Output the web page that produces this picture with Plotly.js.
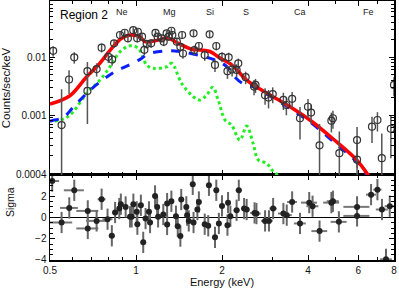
<!DOCTYPE html>
<html><head><meta charset="utf-8">
<script src="https://cdn.plot.ly/plotly-3.0.1.min.js"></script>
<style>html,body{margin:0;padding:0;background:#fff}#chart{width:399px;height:291px}</style>
</head><body><div id="chart"></div>
<script>
// Spectrum data points (top panel)
const dataE = [0.513,0.549,0.583,0.608,0.676,0.676,0.728,0.758,0.800,0.825,0.838,0.879,0.913,0.937,0.978,1.01,1.015,1.05,1.07,1.09,1.13,1.17,1.19,1.23,1.25,1.28,1.30,1.33,1.34,1.39,1.43,1.45,1.46,1.59,1.60,1.66,1.74,1.81,1.89,1.91,2.0,2.09,2.11,2.17,2.25,2.28,2.42,2.59,2.62,2.83,2.91,3.01,3.28,3.36,3.52,3.75,4.0,4.1,4.39,4.83,4.89,5.15,5.94,5.94,6.7,7.0,7.25,7.8,8.0];
const dataRate = [0.0128,0.00067,0.0041,0.0099,0.0057,0.0026,0.0062,0.0145,0.0101,0.0091,0.0172,0.024,0.0262,0.021,0.029,0.021,0.0273,0.0224,0.0133,0.0168,0.0172,0.026,0.0224,0.021,0.0184,0.0256,0.0224,0.0284,0.024,0.0184,0.015,0.024,0.0115,0.0256,0.0132,0.0155,0.0108,0.0246,0.0073,0.0155,0.0101,0.0057,0.0099,0.0061,0.006,0.0078,0.0045,0.0031,0.0033,0.0022,0.0020,0.0023,0.00182,0.00149,0.0019,0.00088,0.00139,0.0011,0.0003,0.0008,0.00088,0.00022,0.00037,0.00017,0.00063,0.00082,0.00018,0.00058,0.0033];
const dataErr = [0.0026,0.0021,0.0018,0.0022,0.0025,0.0019,0.0016,0.0025,0.0022,0.002,0.0025,0.003,0.003,0.003,0.0035,0.003,0.003,0.003,0.0025,0.0028,0.0028,0.003,0.003,0.003,0.003,0.003,0.003,0.003,0.003,0.0028,0.0025,0.003,0.0022,0.003,0.0025,0.0025,0.0022,0.003,0.0018,0.0025,0.002,0.0015,0.002,0.0015,0.0015,0.0016,0.0011,0.0009,0.0009,0.0007,0.0007,0.0007,0.0006,0.0005,0.0006,0.0005,0.0005,0.0004,0.0004,0.0003,0.0003,0.0003,0.00025,0.0002,0.0003,0.0003,0.0003,0.0004,0.0012];

// Model components
const totalE = [0.5,0.587,0.672,0.738,0.822,0.891,0.953,1.033,1.075,1.166,1.297,1.406,1.567,1.675,1.815,1.968,2.168,2.44,2.87,3.46,4.06,4.90,5.92,6.42,6.6];
const totalRate = [0.00155,0.00215,0.00457,0.00728,0.0141,0.021,0.0239,0.0224,0.0184,0.0191,0.021,0.0172,0.0136,0.0132,0.01245,0.0096,0.00728,0.00401,0.00239,0.00139,0.00082,0.000386,0.000168,0.0001,0.00008];
const comp1E = [0.5,0.507,0.557,0.603,0.681,0.758,0.844,0.94,1.033,1.104,1.297,1.445,1.698,1.89,2.066,2.20,2.35,2.51,2.67,2.87,3.46,4.06,4.90,5.92,6.42,6.6];
const comp1Rate = [0.00078,0.000798,0.000912,0.00136,0.00252,0.0039,0.00558,0.00719,0.00912,0.0113,0.01285,0.0123,0.0104,0.00888,0.0070,0.0047,0.00356,0.00316,0.00292,0.0023,0.00129,0.00076,0.00035,0.000155,0.000093,0.00008];
const comp2E = [0.520,0.564,0.602,0.672,0.748,0.811,0.879,0.953,1.019,1.09,1.15,1.28,1.333,1.445,1.587,1.675,1.768,1.856,1.94,2.05,2.16,2.31,2.44,2.57,2.68,2.87,2.99,3.09,3.15];
const comp2Rate = [0.000788,0.000877,0.00113,0.00237,0.00401,0.0068,0.0123,0.01566,0.0141,0.00728,0.00639,0.0068,0.00779,0.00352,0.00207,0.00181,0.00221,0.0030,0.00181,0.00082,0.000673,0.00037,0.000646,0.000325,0.000168,0.000147,0.000113,0.0000989,0.00008];

// Residuals (bottom panel)
const resE = [0.509,0.549,0.584,0.608,0.678,0.678,0.728,0.758,0.795,0.823,0.845,0.874,0.885,0.92,0.953,0.966,0.979,1.006,1.011,1.04,1.06,1.08,1.11,1.12,1.166,1.186,1.195,1.246,1.285,1.285,1.33,1.38,1.40,1.43,1.44,1.50,1.51,1.53,1.58,1.59,1.64,1.66,1.74,1.79,1.80,1.89,1.91,1.95,2.0,2.10,2.09,2.14,2.25,2.29,2.39,2.44,2.60,2.64,2.83,2.92,3.02,3.28,3.37,3.52,3.75,4.04,4.15,4.39,4.83,4.89,5.13,5.94,5.94,6.65,7.0,7.26,7.5,7.73];
const resSigma = [3.43,-0.47,0.90,2.56,0.62,-1.03,-0.32,1.72,-0.16,-1.72,0.47,0.84,1.25,0.99,0.06,0.06,1.25,0.53,-0.63,1.15,-2.34,-0.10,0.53,-0.47,2.03,1.0,0.06,0.28,1.31,-0.66,1.53,0.12,-0.82,-1.75,1.69,1.0,0.22,-0.32,3.12,-0.47,0.75,1.46,-0.63,-0.78,3.03,-1.87,2.56,-0.56,1.09,1.4,-0.72,0.12,0.68,2.56,0.84,0.75,0.43,0.37,-0.32,-0.32,0.84,0.37,0.22,1.46,-0.56,1.40,1.06,-1.28,1.40,1.53,-0.41,1.0,0.15,2.15,2.62,0.75,-3.94,1.06];
const resEErr = [0.029,0.049,0.042,0.049,0.060,0.060,0.059,0.024,0.032,0.020,0.020,0.015,0.015,0.015,0.015,0.015,0.015,0.015,0.015,0.015,0.02,0.02,0.02,0.02,0.02,0.02,0.02,0.02,0.02,0.02,0.02,0.02,0.02,0.02,0.02,0.025,0.025,0.025,0.025,0.025,0.025,0.025,0.025,0.025,0.025,0.025,0.025,0.025,0.03,0.03,0.03,0.03,0.055,0.055,0.055,0.055,0.09,0.09,0.09,0.09,0.09,0.14,0.14,0.14,0.18,0.26,0.2,0.28,0.31,0.24,0.33,0.62,0.62,0.27,0.23,0.35,0.36,0.31];

// Labels
const xTickVals = [0.5,1,2,4,6,8];
const xTickText = ['0.5','1','2','4','6','8'];
const yTopTickVals = [0.01,0.001,0.000093];
const yTopTickText = ['0.01','0.001','0.0004'];
const sigmaTickVals = [-4,-2,0,2];
const elements = ['Ne','Mg','Si','S','Ca','Fe'];
const elementE = [0.893,1.31,1.81,2.43,3.75,6.5];

const FONT = 'Liberation Sans, Arial, Helvetica, sans-serif';
const logMinor = [];
for (const d of [0.0001,0.001,0.01]) for (let k=2;k<=9;k++) logMinor.push(d*k);

const traces = [
  {x: comp2E, y: comp2Rate, xaxis:'x2', yaxis:'y2', mode:'lines', line:{color:'#22ee22', width:3, dash:'dot', shape:'spline'}, hoverinfo:'skip'},
  {x: comp1E, y: comp1Rate, xaxis:'x2', yaxis:'y2', mode:'lines', line:{color:'#0a1eff', width:3, dash:'dash', shape:'spline'}, hoverinfo:'skip'},
  {x: totalE, y: totalRate, xaxis:'x2', yaxis:'y2', mode:'lines', line:{color:'#ff0000', width:3.5, shape:'spline'}, hoverinfo:'skip'},
  {x: dataE, y: dataRate, xaxis:'x2', yaxis:'y2', mode:'markers',
   marker:{symbol:'circle-open', size:7, color:'#333', line:{width:1.2}},
   error_y:{type:'data', array:dataErr, color:'#555', thickness:1.5, width:0}},
  {x: resE, y: resSigma, xaxis:'x', yaxis:'y', mode:'markers',
   marker:{symbol:'circle', size:6, color:'#222'},
   error_x:{type:'data', array:resEErr, color:'#777', thickness:2, width:0},
   error_y:{type:'constant', value:1, color:'#666', thickness:2, width:0}}
];

const split = 0.3282;
const layout = {
  width:399, height:291,
  margin:{l:50, r:5, t:1, b:31},
  paper_bgcolor:'#fff', plot_bgcolor:'#fff',
  showlegend:false,
  font:{family:FONT, size:10, color:'#111'},
  xaxis:{type:'log', anchor:'y', domain:[0,1], range:[Math.log10(0.5), Math.log10(8)],
    tickvals:xTickVals, ticktext:xTickText, ticks:'inside', ticklen:5, tickcolor:'#000',
    minor:{tickvals:[0.6,0.7,0.8,0.9,3,5,7], ticks:'inside', ticklen:3, tickcolor:'#000'},
    showline:true, linecolor:'#000', linewidth:1.5, mirror:'ticks', showgrid:false, zeroline:false,
    tickfont:{size:10}, title:{text:'Energy (keV)', font:{size:11}, standoff:4}},
  xaxis2:{type:'log', anchor:'y2', matches:'x', domain:[0,1], range:[Math.log10(0.5), Math.log10(8)],
    tickvals:xTickVals, showticklabels:false, ticks:'inside', ticklen:5, tickcolor:'#000',
    minor:{tickvals:[0.6,0.7,0.8,0.9,3,5,7], ticks:'inside', ticklen:3, tickcolor:'#000'},
    showline:true, linecolor:'#000', linewidth:1.5, mirror:'ticks', showgrid:false, zeroline:false},
  yaxis:{domain:[0,split], anchor:'x', range:[-4,4], tickvals:sigmaTickVals, ticks:'inside', ticklen:5, tickcolor:'#000',
    minor:{dtick:0.5, ticks:'inside', ticklen:3, tickcolor:'#000'},
    showline:true, linecolor:'#000', linewidth:1.5, mirror:'ticks', showgrid:false,
    zeroline:true, zerolinecolor:'#000', zerolinewidth:1.5,
    tickfont:{size:10}},
  yaxis2:{domain:[split,1], anchor:'x2', type:'log', range:[-4.034,-1.034],
    tickvals:yTopTickVals, ticktext:yTopTickText, ticks:'inside', ticklen:5, tickcolor:'#000',
    minor:{tickvals:logMinor, ticks:'inside', ticklen:3, tickcolor:'#000'},
    showline:true, linecolor:'#000', linewidth:1.5, mirror:'ticks', showgrid:false, zeroline:false,
    tickfont:{size:10}, title:{text:'Counts/sec/keV', font:{size:11.5}, standoff:6}},
  annotations: [
    {xref:'paper', yref:'paper', x:0.022, y:0.947, xanchor:'left', yanchor:'middle', text:'Region 2', showarrow:false, font:{size:12, color:'#000'}},
    {xref:'paper', yref:'paper', x:-0.116, y:0.224, xanchor:'center', yanchor:'middle', text:'Sigma', textangle:-90, showarrow:false, font:{size:10.5, color:'#111'}},
    ...elements.map((el,i)=>({xref:'x2', yref:'paper', x:Math.log10(elementE[i]), y:0.958, xanchor:'center', yanchor:'middle', text:el, showarrow:false, font:{size:9, color:'#222'}}))
  ]
};

Plotly.newPlot('chart', traces, layout, {staticPlot:true, displayModeBar:false});
</script></body></html>
